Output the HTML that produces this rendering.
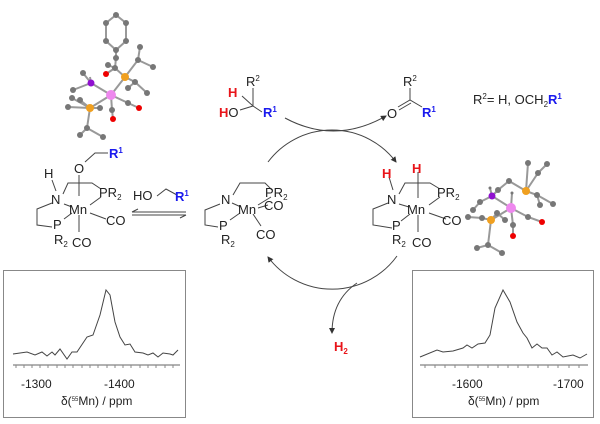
<!DOCTYPE html>
<html><head><meta charset="utf-8"><style>
html,body{margin:0;padding:0;background:#fff;}
svg{display:block;font-family:"Liberation Sans",sans-serif;}
.t{font-size:13px;fill:#222;}
.b{fill:#1a1aee;font-weight:bold;}
.r{fill:#e8141a;font-weight:bold;}
</style></head><body>
<svg width="600" height="424" viewBox="0 0 600 424" xmlns="http://www.w3.org/2000/svg">
<defs>
<marker id="ah" markerWidth="6" markerHeight="6" refX="5" refY="3" orient="auto"><path d="M0,0 L6,3 L0,6 Z" fill="#333"/></marker>
</defs>
<g stroke="#444" fill="none" stroke-width="1">
<path d="M268,162 A80,80 0 0 1 396,162" marker-end="url(#ah)"/>
<path d="M397,256 A80,80 0 0 1 268,257" marker-end="url(#ah)"/>
<path d="M285,118 Q335,145 386,116" marker-end="url(#ah)"/>
<path d="M357,283 Q332,300 332,333" marker-end="url(#ah)"/>
<line x1="132" y1="212" x2="186" y2="212"/><path d="M132,212 l6,-3"/>
<line x1="132" y1="215" x2="186" y2="215"/><path d="M186,215 l-6,3"/>
<path d="M85,162 L95,153 L108,153"/>
<line x1="79" y1="175" x2="79" y2="196"/><line x1="79" y1="215" x2="79" y2="232"/>
<path d="M52,180 L56,191"/>
<path d="M63,194 L68,183 L92,183 L101,189"/>
<path d="M52,203 L37,209 L37,225 L52,227"/>
<path d="M64,204 L72,207"/><path d="M90,205 L101,197"/><path d="M90,213 L106,219"/><path d="M64,219 L72,213"/>
<path d="M157,196 L166,189 L177,195"/>
<path d="M233,195 L240,183 L265,183 L272,190"/>
<path d="M220,204 L205,210 L205,225 L218,227"/>
<path d="M232,203 L241,207"/><path d="M258,205 L271,197"/><path d="M258,208 L268,205"/><path d="M253,214 L261,226"/><path d="M230,220 L240,213"/>
<line x1="418" y1="172" x2="418" y2="198"/><line x1="418" y1="215" x2="418" y2="232"/>
<path d="M389,177 L393,190"/>
<path d="M399,194 L405,183 L430,183 L440,189"/>
<path d="M388,203 L373,209 L373,225 L392,228"/>
<path d="M399,204 L409,207"/><path d="M429,205 L440,197"/><path d="M429,213 L446,219"/><path d="M401,221 L410,214"/>
<path d="M242,96 L253,106 L262,112"/><path d="M253,106 L253,88"/><path d="M240,110 L253,106"/>
<path d="M398,107 L410,100 L422,107"/><path d="M399,110 L411,103"/><path d="M410,100 L410,88"/>
</g>
<g class="t">
<text x="109" y="158" class="b">R<tspan font-size="8" dy="-5">1</tspan></text>
<text x="74" y="173">O</text>
<text x="44" y="178">H</text>
<text x="51" y="204">N</text>
<text x="69" y="214">Mn</text>
<text x="99" y="197">PR<tspan font-size="8" dy="3">2</tspan></text>
<text x="106" y="225">CO</text>
<text x="53" y="229">P</text>
<text x="54" y="244">R<tspan font-size="8" dy="3">2</tspan></text>
<text x="72" y="247">CO</text>
<text x="133" y="200">HO</text>
<text x="175" y="201" class="b">R<tspan font-size="8" dy="-5">1</tspan></text>
<text x="221" y="204">N</text>
<text x="238" y="214">Mn</text>
<text x="265" y="197">PR<tspan font-size="8" dy="3">2</tspan></text>
<text x="264" y="210">CO</text>
<text x="219" y="230">P</text>
<text x="221" y="244">R<tspan font-size="8" dy="3">2</tspan></text>
<text x="256" y="239">CO</text>
<text x="382" y="178" class="r">H</text>
<text x="412" y="173" class="r">H</text>
<text x="387" y="204">N</text>
<text x="407" y="214">Mn</text>
<text x="437" y="197">PR<tspan font-size="8" dy="3">2</tspan></text>
<text x="442" y="225">CO</text>
<text x="392" y="230">P</text>
<text x="392" y="244">R<tspan font-size="8" dy="3">2</tspan></text>
<text x="412" y="247">CO</text>
<text x="246" y="86">R<tspan font-size="8" dy="-5">2</tspan></text>
<text x="228" y="97" class="r">H</text>
<text x="219" y="117"><tspan fill="#e8141a" font-weight="bold">H</tspan>O</text>
<text x="263" y="117" class="b">R<tspan font-size="8" dy="-5">1</tspan></text>
<text x="403" y="86">R<tspan font-size="8" dy="-5">2</tspan></text>
<text x="387" y="118">O</text>
<text x="422" y="117" class="b">R<tspan font-size="8" dy="-5">1</tspan></text>
<text x="473" y="104">R<tspan font-size="8" dy="-5">2</tspan><tspan dy="5">= H, OCH</tspan><tspan font-size="8" dy="3">2</tspan><tspan dy="-3" fill="#1a1aee" font-weight="bold">R</tspan><tspan font-size="8" dy="-5" fill="#1a1aee" font-weight="bold">1</tspan></text>
<text x="334" y="351" class="r">H<tspan font-size="8" dy="3">2</tspan></text>
</g>
<g fill="none" stroke="#666">
<rect x="3.5" y="270.5" width="182" height="147" stroke="#888"/>
<rect x="412.5" y="270.5" width="181" height="147" stroke="#888"/>
<line x1="13" y1="365" x2="180" y2="365"/>
<line x1="420" y1="365" x2="588" y2="365"/>
<polyline stroke="#444" points="13,354 27,352 35,355 42,352 47,356 52,352 55,355 60,349 67,359 72,352 77,352 87,337 93,335 100,315 106,290 110,295 115,322 120,337 125,345 130,344 135,352 143,353 148,355 153,353 158,357 163,353 170,354 173,355 178,350"/>
<polyline stroke="#444" points="420,357 437,350 443,352 453,351 463,348 467,345 472,348 478,344 485,343 490,335 495,308 503,290 510,302 517,322 523,333 527,338 532,348 537,344 542,348 547,348 552,355 557,352 563,357 573,355 580,358 587,354"/>
<path stroke="#888" d="M16,365v3M24,365v3M32,365v3M40,365v3M48,365v3M57,365v3M65,365v3M73,365v3M82,365v3M90,365v3M98,365v3M107,365v3M115,365v3M123,365v3M131,365v3M140,365v3M148,365v3M156,365v3M165,365v3M173,365v3"/>
<path stroke="#888" d="M425,365v3M435,365v3M445,365v3M455,365v3M468,365v3M478,365v3M488,365v3M498,365v3M508,365v3M518,365v3M528,365v3M538,365v3M548,365v3M558,365v3M569,365v3M579,365v3"/>
</g>
<g class="t">
<text x="21" y="388" font-size="12">-1300</text>
<text x="104" y="388" font-size="12">-1400</text>
<text x="61" y="405" font-size="12">δ(<tspan font-size="6" dy="-4">55</tspan><tspan dy="4">Mn) / ppm</tspan></text>
<text x="452" y="388" font-size="12">-1600</text>
<text x="553" y="388" font-size="12">-1700</text>
<text x="468" y="405" font-size="12">δ(<tspan font-size="6" dy="-4">55</tspan><tspan dy="4">Mn) / ppm</tspan></text>
</g>
<g stroke="#999" stroke-width="2" fill="none">
<path d="M116,15 L126,23 L126,41 L116,50 L106,41 L106,23 Z M116,50 L116,58 L115,68 L108,65 M115,68 L125,77 L111,95 M115,68 L106,74 M111,95 L91,83 L83,73 M91,83 L90,77 M111,95 L90,108 M111,95 L128,103 L139,108 M111,95 L112,110 L113,119 M125,77 L138,60 L140,47 M138,60 L153,67 M125,77 L135,82 L147,93 M135,82 L128,88 M91,83 L73,90 M90,108 L72,98 M90,108 L68,107 M90,108 L80,100 M90,108 L100,108 M90,108 L87,128 L80,135 M87,128 L103,137"/>
</g>
<g fill="#777">
<circle cx="116" cy="15" r="3"/><circle cx="126" cy="23" r="3"/><circle cx="126" cy="41" r="3"/><circle cx="116" cy="50" r="3"/><circle cx="106" cy="41" r="3"/><circle cx="106" cy="23" r="3"/><circle cx="116" cy="58" r="3"/><circle cx="115" cy="68" r="3"/><circle cx="108" cy="65" r="3"/><circle cx="138" cy="60" r="3"/><circle cx="140" cy="47" r="3"/><circle cx="153" cy="67" r="3"/><circle cx="135" cy="82" r="3"/><circle cx="147" cy="93" r="3"/><circle cx="128" cy="88" r="3"/><circle cx="73" cy="90" r="3"/><circle cx="72" cy="98" r="3"/><circle cx="68" cy="107" r="3"/><circle cx="80" cy="100" r="3"/><circle cx="100" cy="108" r="3"/><circle cx="87" cy="128" r="3"/><circle cx="80" cy="135" r="3"/><circle cx="103" cy="137" r="3"/><circle cx="128" cy="103" r="3"/><circle cx="112" cy="110" r="3"/><circle cx="83" cy="73" r="3"/>
<circle cx="106" cy="74" r="3" fill="#e00"/><circle cx="139" cy="108" r="3" fill="#e00"/><circle cx="113" cy="119" r="3" fill="#e00"/>
<circle cx="125" cy="77" r="4" fill="#f0a020"/><circle cx="90" cy="108" r="4" fill="#f0a020"/>
<circle cx="91" cy="83" r="3.5" fill="#9010d0"/><circle cx="111" cy="95" r="5" fill="#ee88ee"/>
</g>
<g stroke="#999" stroke-width="2" fill="none">
<path d="M511,208 L492,196 L498,190 L509,181 L526,191 M492,196 L490,188 M492,196 L480,202 L473,210 M526,191 L528,163 M526,191 L538,173 L547,164 M526,191 L537,195 L540,205 M537,195 L553,204 M511,208 L491,220 L497,213 L505,220 M491,220 L482,218 L468,217 M491,220 L488,245 L477,248 M488,245 L502,253 M511,208 L528,217 L542,222 M511,208 L513,225 L513,236 M511,208 L512,193"/>
</g>
<g fill="#777">
<circle cx="498" cy="190" r="3"/><circle cx="509" cy="181" r="3"/><circle cx="528" cy="163" r="3"/><circle cx="538" cy="173" r="3"/><circle cx="547" cy="164" r="3"/><circle cx="537" cy="195" r="3"/><circle cx="540" cy="205" r="3"/><circle cx="553" cy="204" r="3"/><circle cx="480" cy="202" r="3"/><circle cx="473" cy="210" r="3"/><circle cx="468" cy="217" r="3"/><circle cx="482" cy="218" r="3"/><circle cx="497" cy="213" r="3"/><circle cx="505" cy="220" r="3"/><circle cx="488" cy="245" r="3"/><circle cx="477" cy="248" r="3"/><circle cx="502" cy="253" r="3"/><circle cx="528" cy="217" r="3"/><circle cx="513" cy="225" r="3"/>
<circle cx="542" cy="222" r="3" fill="#e00"/><circle cx="513" cy="236" r="3" fill="#e00"/>
<circle cx="526" cy="191" r="4" fill="#f0a020"/><circle cx="491" cy="220" r="4" fill="#f0a020"/>
<circle cx="492" cy="196" r="3.5" fill="#9010d0"/><circle cx="511" cy="208" r="5" fill="#ee88ee"/>
<circle cx="490" cy="188" r="1.5"/><circle cx="512" cy="193" r="1.5"/>
</g>
</svg>
</body></html>
